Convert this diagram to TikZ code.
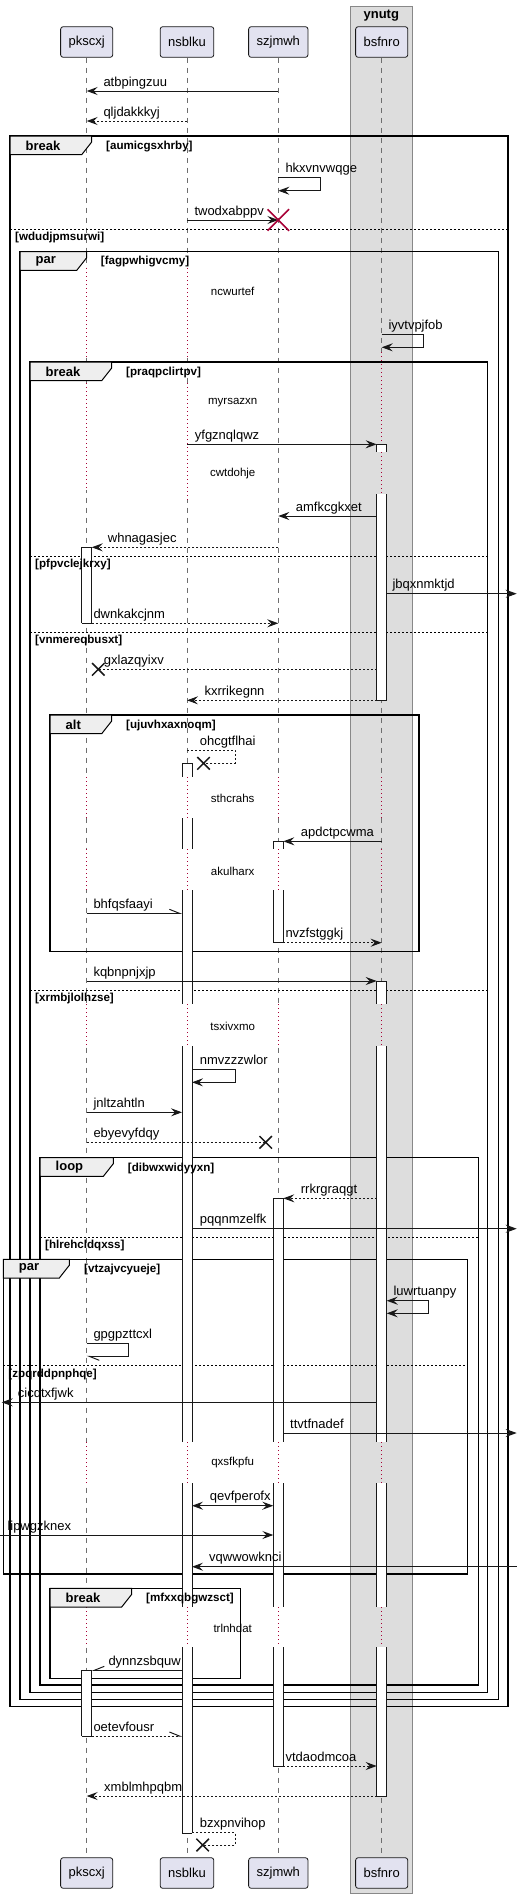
\documentclass[tikz,border=0pt]{standalone}
\usepackage{fontspec}
\setmainfont{Liberation Sans}
\usetikzlibrary{arrows.meta,shapes.misc}
\definecolor{ink}{RGB}{24,24,24}
\definecolor{partfill}{RGB}{226,226,240}
\definecolor{boxfill}{RGB}{221,221,221}
\definecolor{boxline}{RGB}{136,136,136}
\definecolor{tabfill}{RGB}{238,238,238}
\definecolor{lifegray}{RGB}{110,110,110}
\definecolor{delayred}{RGB}{168,0,54}
\tikzset{
  part/.style={draw=ink, fill=partfill, rounded corners=2.5pt, line width=0.8pt,
               minimum height=30.6pt, inner xsep=8pt, font=\fontsize{13}{15}\selectfont},
  life/.style={draw=lifegray, line width=1pt, dash pattern=on 5pt off 5pt},
  delay/.style={draw=delayred, line width=1pt, dash pattern=on 1pt off 3pt,
                preaction={draw=white, line width=3pt, solid}},
  delaybox/.style={delay, preaction={draw=boxfill, line width=3pt, solid}},
  frame/.style={draw=black, line width=1.5pt},
  tab/.style={draw=black, fill=tabfill, line width=1pt},
  sep/.style={draw=black, line width=0.8pt, dash pattern=on 2pt off 2pt},
  kwtxt/.style={anchor=west, inner sep=0pt, font=\bfseries\fontsize{13}{15}\selectfont},
  condtxt/.style={anchor=west, inner sep=0pt, font=\bfseries\fontsize{11.6}{13}\selectfont},
  delaytxt/.style={inner sep=0pt, font=\fontsize{11.5}{13}\selectfont},
  lbl/.style={anchor=base west, inner sep=0pt, font=\fontsize{13}{15}\selectfont},
  barline/.style={draw=ink, line width=1pt},
  plain/.style={draw=ink, line width=1pt},
  msg/.style={plain, -{Stealth[length=11pt,width=8pt,inset=4pt]}},
  msgboth/.style={plain, {Stealth[length=11pt,width=8pt,inset=4pt]}-{Stealth[length=11pt,width=8pt,inset=4pt]}},
  reply/.style={msg, dash pattern=on 2pt off 2pt},
  replyline/.style={plain, dash pattern=on 2pt off 2pt},
  halfl/.style={plain, -{Straight Barb[left,length=10pt,width=8pt]}},
  halfr/.style={plain, -{Straight Barb[right,length=10pt,width=8pt]}},
  killx/.style={cross out, draw=delayred, line width=1.5pt, minimum size=20pt, inner sep=0pt},
  lostx/.style={cross out, draw=ink, line width=1.5pt, minimum size=11pt, inner sep=0pt}
}

\begin{document}
\begin{tikzpicture}[x=1pt,y=-1pt]
  \useasboundingbox (0,0) rectangle (522,1898);

  % box
  \filldraw[fill=boxfill, draw=boxline, line width=1pt] (350.3,6) rectangle (412.3,1893.3);
  \node[kwtxt, anchor=center] (ynutg) at (381.3,15.3) {ynutg};

  % participants
  \node[part] (pkscxj) at (86.7,42) {pkscxj};
  \node[part] (nsblku) at (187,42) {nsblku};
  \node[part] (szjmwh) at (278.3,42) {szjmwh};
  \node[part] (bsfnro) at (381.7,42) {bsfnro};
  \node[part] (pkscxj2) at (86.7,1873) {pkscxj};
  \node[part] (nsblku2) at (187,1873) {nsblku};
  \node[part] (szjmwh2) at (278.3,1873) {szjmwh};
  \node[part] (bsfnro2) at (381.7,1873) {bsfnro};
  \foreach \who in {pkscxj,nsblku,szjmwh,bsfnro}
    \draw[life] (\who) -- (\who2);

  \coordinate (pkR) at ([xshift=5pt]pkscxj.center);
  \coordinate (nsL) at ([xshift=-5pt]nsblku.center);
  \coordinate (nsR) at ([xshift=5pt]nsblku.center);
  \coordinate (szL) at ([xshift=-5pt]szjmwh.center);
  \coordinate (szR) at ([xshift=5pt]szjmwh.center);
  \coordinate (bsL) at ([xshift=-5pt]bsfnro.center);
  \coordinate (bsR) at ([xshift=5pt]bsfnro.center);
  \coordinate (edgeL) at (0,0);
  \coordinate (edgeLt) at (1.7,0);
  \coordinate (edgeR) at (516.7,0);

  % delays on the lifelines
  \foreach \who/\ya/\yb in {pkscxj/268/357, pkscxj/383/490, nsblku/268/357, nsblku/383/500,
      pkscxj/777/818, nsblku/777/818, szjmwh/777/818, pkscxj/849/890, nsblku/849/890, szjmwh/849/890,
      pkscxj/1004/1046, nsblku/1004/1046, szjmwh/1004/1046, pkscxj/1442/1483, nsblku/1442/1483,
      szjmwh/1442/1483, pkscxj/1607/1647, nsblku/1607/1647, szjmwh/1607/1647}
    \draw[delay] (\who |- 0,\ya) -- (\who |- 0,\yb);
  \foreach \ya/\yb in {352/444, 452/494, 777/818, 849/890, 1004/1046, 1442/1483, 1607/1647}
    \draw[delaybox] (bsfnro |- 0,\ya) -- (bsfnro |- 0,\yb);

  \node[delaytxt] (ncwurtef) at (232.7,291.7) {ncwurtef};
  \node[delaytxt] (myrsazxn) at (232.7,402.7) {myrsazxn};
  \node[delaytxt] (cwtdohje) at (232.7,474) {cwtdohje};
  \node[delaytxt] (sthcrahs) at (232.7,798.3) {sthcrahs};
  \node[delaytxt] (akulharx) at (232.7,871) {akulharx};
  \node[delaytxt] (tsxivxmo) at (232.7,1026) {tsxivxmo};
  \node[delaytxt] (qxsfkpfu) at (232.7,1462.7) {qxsfkpfu};
  \node[delaytxt] (trlnhdat) at (232.7,1628.3) {trlnhdat};

  % groups
  \foreach \xa/\ya/\xb/\yb/\tr in {10/136/508/1706.3/91.7, 20/251.7/498.3/1699.3/86.7,
      30/362/487.7/1692.7/111.7, 50/715/419/951.3/111.7, 40/1157.7/478.3/1685/113.3,
      3.3/1259.3/467.3/1574/69.3, 50/1588.3/240.7/1678.3/131.7} {
    \draw[frame] (\xa,\ya) rectangle (\xb,\yb);
    \filldraw[tab] (\xa,\ya) -- (\tr,\ya) -- (\tr,\ya+6) -- (\tr-10,\ya+18.7) -- (\xa,\ya+18.7) -- cycle;
  }
  \foreach \xa/\xb/\y in {10/508/229.3, 30/487.7/556, 30/487.7/632.3, 30/487.7/990,
      40/478.3/1237.3, 3.3/467.3/1365.7}
    \draw[sep] (\xa,\y) -- (\xb,\y);

  % activations
  \foreach \x/\ya/\yb in {381.7/444.3/452.3, 381.7/494.3/700.3, 381.7/981/1004, 381.7/1046/1442,
      381.7/1483/1607, 381.7/1647/1796, 86.7/547.3/623.3, 86.7/1670.3/1736,
      187/763.3/776.7, 187/818.3/849.3, 187/890/1004, 187/1046/1442, 187/1483/1607, 187/1647/1833.3,
      278.3/841.3/849.3, 278.3/890/942.7, 278.3/1198.3/1442, 278.3/1483/1607, 278.3/1647/1766} {
    \fill[white] (\x-5,\ya) rectangle (\x+5,\yb);
    \draw[barline] (\x-5,\ya) -- (\x-5,\yb) (\x+5,\ya) -- (\x+5,\yb);
  }
  \foreach \x/\y in {381.7/444.3, 381.7/700.3, 381.7/981, 381.7/1796, 86.7/547.3, 86.7/623.3,
      86.7/1670.3, 86.7/1736, 187/763.3, 187/1833.3, 278.3/841.3, 278.3/942.7, 278.3/1198.3, 278.3/1766}
    \draw[barline] (\x-5,\y) -- (\x+5,\y);

  % group labels
  \foreach \xa/\ya/\kw/\cond/\cx/\i in {10/136/break/aumicgsxhrby/106/1,
      20/251.7/par/fagpwhigvcmy/100.7/2, 30/362/break/praqpclirtpv/126/3,
      50/715/alt/ujuvhxaxnoqm/126/4, 40/1157.7/loop/dibwxwidyyxn/127.7/5,
      3.3/1259.3/par/vtzajvcyueje/84/6, 50/1588.3/break/mfxxqbgwzsct/146/7} {
    \node[kwtxt] (kw\i) at (\xa+15.5,\ya+9.4) {\kw};
    \node[condtxt] (cond\i) at (\cx,\ya+10.3) {[\cond]};
  }
  \foreach \xa/\y/\cond/\i in {10/229.3/wdudjpmsurwi/1, 30/556/pfpvclejkrxy/2,
      30/632.3/vnmereqbusxt/3, 30/990/xrmbjlolhzse/4,
      40/1237.3/hlrehcldqxss/5, 3.3/1365.7/zpqrddpnphqe/6}
    \node[condtxt] (else\i) at (\xa+5,\y+8.3) {[\cond]};

  % messages
  \draw[msg] (szjmwh |- 0,91) -- (pkscxj |- 0,91);
  \node[lbl] (atbpingzuu) at (103.3,86) {atbpingzuu};
  \draw[reply] (nsblku |- 0,121) -- (pkscxj |- 0,121);
  \node[lbl] (qljdakkkyj) at (103.3,116) {qljdakkkyj};
  \draw[msg] (szjmwh |- 0,177.7) -- ++(42.4,0) |- (szjmwh |- 0,190.7);
  \node[lbl] (hkxvnvwqge) at (285.3,172.7) {hkxvnvwqge};
  \draw[msg] (nsblku |- 0,220) -- (szjmwh |- 0,220);
  \node[killx] (szkill) at (szjmwh |- 0,220) {};
  \node[lbl] (twodxabppv) at (194.3,215) {twodxabppv};
  \draw[msg] (bsfnro |- 0,334.3) -- ++(41.6,0) |- (bsfnro |- 0,347.3);
  \node[lbl] (iyvtvpjfob) at (388.3,329.3) {iyvtvpjfob};
  \draw[msg] (nsblku |- 0,444.3) -- (bsL |- 0,444.3);
  \node[lbl] (yfgznqlqwz) at (194.7,439.3) {yfgznqlqwz};
  \draw[msg] (bsL |- 0,516) -- (szjmwh |- 0,516);
  \node[lbl] (amfkcgkxet) at (295.7,511) {amfkcgkxet};
  \draw[reply] (szjmwh |- 0,547.3) -- (pkR |- 0,547.3);
  \node[lbl] (whnagasjec) at (107.7,542.3) {whnagasjec};
  \draw[msg] (bsR |- 0,593.7) -- (edgeR |- 0,593.7);
  \node[lbl] (jbqxnmktjd) at (392.3,588.7) {jbqxnmktjd};
  \draw[reply] (pkR |- 0,623.3) -- (szjmwh |- 0,623.3);
  \node[lbl] (dwnkakcjnm) at (93.3,618.3) {dwnkakcjnm};
  \node[lostx] (lost1) at (98.3,669.3) {};
  \draw[replyline] (bsL |- 0,669.3) -- (lost1.center);
  \node[lbl] (gxlazqyixv) at (103.7,664.3) {gxlazqyixv};
  \draw[reply] (bsL |- 0,700.3) -- (nsblku |- 0,700.3);
  \node[lbl] (kxrrikegnn) at (204.3,695.3) {kxrrikegnn};
  \node[lostx] (lost2) at (203.5,763.3) {};
  \draw[replyline] (nsblku |- 0,750) -- ++(48,0) |- (lost2.center);
  \node[lbl] (ohcgtflhai) at (199.7,745) {ohcgtflhai};
  \draw[msg] (bsfnro |- 0,841.3) -- (szR |- 0,841.3);
  \node[lbl] (apdctpcwma) at (300.7,836.3) {apdctpcwma};
  \draw[halfl] (pkscxj |- 0,913.3) -- (nsL |- 0,913.3);
  \node[lbl] (bhfqsfaayi) at (93.3,908.3) {bhfqsfaayi};
  \draw[reply] (szR |- 0,942.7) -- (bsfnro |- 0,942.7);
  \node[lbl] (nvzfstggkj) at (285.3,937.7) {nvzfstggkj};
  \draw[msg] (pkscxj |- 0,981) -- (bsL |- 0,981);
  \node[lbl] (kqbnpnjxjp) at (93.3,976) {kqbnpnjxjp};
  \draw[msg] (nsR |- 0,1069.3) -- ++(43,0) |- (nsR |- 0,1082.3);
  \node[lbl] (nmvzzzwlor) at (199.7,1064.3) {nmvzzzwlor};
  \draw[msg] (pkscxj |- 0,1112.3) -- (nsL |- 0,1112.3);
  \node[lbl] (jnltzahtln) at (93.3,1107.3) {jnltzahtln};
  \node[lostx] (lost3) at (265.7,1142.3) {};
  \draw[replyline] (pkscxj |- 0,1142.3) -- (lost3.center);
  \node[lbl] (ebyevyfdqy) at (93.3,1137.3) {ebyevyfdqy};
  \draw[reply] (bsL |- 0,1198.3) -- (szR |- 0,1198.3);
  \node[lbl] (rrkrgraqgt) at (300.7,1193.3) {rrkrgraqgt};
  \draw[msg] (nsR |- 0,1228.7) -- (edgeR |- 0,1228.7);
  \node[lbl] (pqqnmzelfk) at (199.7,1223.7) {pqqnmzelfk};
  \draw[msgboth] (bsR |- 0,1300.7) -- ++(41.6,0) |- (bsR |- 0,1313.3);
  \node[lbl] (luwrtuanpy) at (393.3,1295.7) {luwrtuanpy};
  \draw[halfl] (pkscxj |- 0,1343.7) -- ++(41.6,0) |- (pkscxj |- 0,1356.3);
  \node[lbl] (gpgpzttcxl) at (93.3,1338.7) {gpgpzttcxl};
  \draw[msg] (bsL |- 0,1402.3) -- (edgeLt |- 0,1402.3);
  \node[lbl] (cicqtxfjwk) at (17.7,1397.3) {cicqtxfjwk};
  \draw[msg] (szR |- 0,1433) -- (edgeR |- 0,1433);
  \node[lbl] (ttvtfnadef) at (290,1428) {ttvtfnadef};
  \draw[msgboth] (nsR |- 0,1505.7) -- (szL |- 0,1505.7);
  \node[lbl] (qevfperofx) at (209.7,1500.7) {qevfperofx};
  \draw[msg] (edgeL |- 0,1535) -- (szL |- 0,1535);
  \node[lbl] (lipwgzknex) at (7.3,1530) {lipwgzknex};
  \draw[msg] (edgeR |- 0,1566.7) -- (nsR |- 0,1566.7);
  \node[lbl] (vqwwowknci) at (209,1561.7) {vqwwowknci};
  \draw[halfr] (nsL |- 0,1670.3) -- (pkR |- 0,1670.3);
  \node[lbl] (dynnzsbquw) at (108.3,1665.3) {dynnzsbquw};
  \draw[halfl, dash pattern=on 2pt off 2pt] (pkR |- 0,1736) -- (nsL |- 0,1736);
  \node[lbl] (oetevfousr) at (93.3,1731) {oetevfousr};
  \draw[reply] (szR |- 0,1766) -- (bsL |- 0,1766);
  \node[lbl] (vtdaodmcoa) at (285.3,1761) {vtdaodmcoa};
  \draw[reply] (bsL |- 0,1796) -- (pkscxj |- 0,1796);
  \node[lbl] (xmblmhpqbm) at (104,1791) {xmblmhpqbm};
  \node[lostx] (lost4) at (202.7,1845) {};
  \draw[replyline] (nsR |- 0,1832.7) -- ++(43,0) |- (lost4.center);
  \node[lbl] (bzxpnvihop) at (199.7,1827.7) {bzxpnvihop};
\end{tikzpicture}
\end{document}
